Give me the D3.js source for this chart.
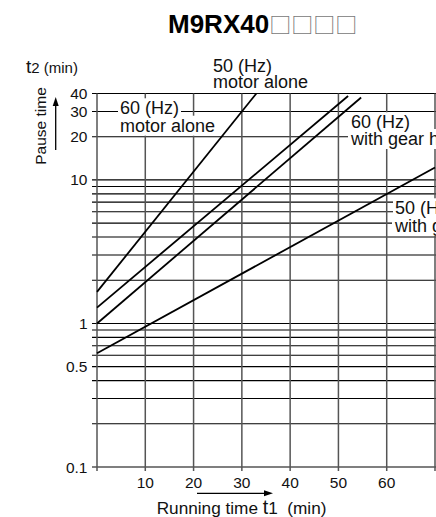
<!DOCTYPE html>
<html><head><meta charset="utf-8">
<script src="https://cdn.jsdelivr.net/npm/d3@7"></script>
<style>
html,body{margin:0;padding:0;background:#fff;}
svg{display:block;font-family:"Liberation Sans",Arial,sans-serif;}
</style></head>
<body>
<script>
// ---- data ----
const seriesNames = ["50 (Hz) motor alone", "60 (Hz) motor alone", "60 (Hz) with gear head", "50 (Hz) with gear head"];
const runTimeA = [0, 33];     const pauseTimeA = [1.66, 40];
const runTimeB = [0, 52];     const pauseTimeB = [1.29, 38.4];
const runTimeC = [0, 54.7];   const pauseTimeC = [1.0, 37.5];
const runTimeD = [0, 70];     const pauseTimeD = [0.62, 12.2];
const xGridValues = [0, 10, 20, 30, 40, 50, 60, 70];
const xTickLabels = ["10", "20", "30", "40", "50", "60"];
const yGridValues = [0.1,0.2,0.3,0.4,0.5,0.6,0.7,0.8,0.9,1,2,3,4,5,6,7,8,9,10,20,30,40];
const yTickLabels = ["0.1", "0.5", "1", "10", "20", "30", "40"];
const titleMain = "M9RX40";
const titleBoxes = "□□□□";

const W = 436, H = 517;
const svg = d3.select("body").append("svg").attr("width", W).attr("height", H);

const x = d3.scaleLinear().domain([0, 70]).range([97, 435]);
const y = d3.scaleLog().domain([0.1, 40]).range([467, 93.5]);

// title
const title = svg.append("text").attr("x", 168).attr("y", 32.5);
title.append("tspan").attr("font-size", 26).attr("font-weight", "bold").attr("fill", "#000").text(titleMain);
title.append("tspan").attr("font-size", 22).attr("font-family", "'Noto Sans CJK JP'").attr("fill", "#777").text(titleBoxes);

// horizontal gridlines
svg.append("g").selectAll("line").data(yGridValues).join("line")
  .attr("x1", x(0) - 5).attr("x2", W + 5)
  .attr("y1", d => y(d)).attr("y2", d => y(d))
  .attr("stroke", "#000").attr("stroke-width", 1.1);

// vertical gridlines
svg.append("g").selectAll("line").data(xGridValues).join("line")
  .attr("x1", d => x(d)).attr("x2", d => x(d))
  .attr("y1", y(40)).attr("y2", y(0.1) + 4)
  .attr("stroke", "#555").attr("stroke-width", 1.5);

// y tick labels
svg.append("g").selectAll("text").data(yTickLabels).join("text")
  .attr("x", x(0) - 9.5).attr("y", d => y(+d))
  .attr("dy", "0.36em").attr("text-anchor", "end")
  .attr("font-size", 15.5).attr("fill", "#111").text(d => d);

// x tick labels
svg.append("g").selectAll("text").data(xTickLabels).join("text")
  .attr("x", d => x(+d)).attr("y", 488)
  .attr("text-anchor", "middle")
  .attr("font-size", 15.5).attr("fill", "#111").text(d => d);

// annotation labels with white knock-out background
function label(lines, px, py, lh) {
  const g = svg.append("g");
  const rg = g.append("g");
  lines.forEach((t, i) => {
    const tx = g.append("text").attr("x", px).attr("y", py + i * lh)
      .attr("font-size", 18).attr("fill", "#111").text(t);
    const b = tx.node().getBBox();
    rg.append("rect").attr("x", b.x - 2).attr("y", b.y).attr("width", b.width + 4).attr("height", b.height).attr("fill", "#fff");
  });
}
label(["50 (Hz)", "motor alone"], 213, 71.7, 16.6);
label(["60 (Hz)", "motor alone"], 120, 114.3, 17.4);
label(["60 (Hz)", "with gear head"], 351, 128.3, 16.7);
label(["50 (Hz)", "with gear head"], 395, 214.3, 17.4);

// curves
const seriesData = [
  d3.zip(runTimeA, pauseTimeA),
  d3.zip(runTimeB, pauseTimeB),
  d3.zip(runTimeC, pauseTimeC),
  d3.zip(runTimeD, pauseTimeD)
];
const line = d3.line().x(d => x(d[0])).y(d => y(d[1]));
svg.append("g").selectAll("path").data(seriesData).join("path")
  .attr("d", line).attr("fill", "none").attr("stroke", "#000").attr("stroke-width", 1.8)
  .append("title").text((d, i) => seriesNames[i]);

// y axis title
const yt = svg.append("text").attr("x", 26).attr("y", 72.7).attr("fill", "#111");
yt.append("tspan").attr("font-size", 19).text("t");
yt.append("tspan").attr("font-size", 15).text("2 (min)");

svg.append("text").attr("transform", "translate(45.5,126) rotate(-90)")
  .attr("text-anchor", "middle").attr("font-size", 15.5).attr("fill", "#111").text("Pause time");

// vertical arrow
svg.append("line").attr("x1", 55.7).attr("x2", 55.7).attr("y1", 150).attr("y2", 104)
  .attr("stroke", "#000").attr("stroke-width", 1.3);
svg.append("path").attr("d", "M55.7,97 L52.7,106 L58.7,106 Z").attr("fill", "#000");

// x axis title
const xt = svg.append("text").attr("x", 156.7).attr("y", 514).attr("fill", "#111").attr("font-size", 17.2);
xt.append("tspan").text("Running time ");
xt.append("tspan").attr("font-size", 19.5).text("t");
xt.append("tspan").text("1  (min)");
xt.attr("xml:space", "preserve").style("white-space", "pre");

// horizontal arrow
svg.append("line").attr("x1", 197).attr("x2", 265).attr("y1", 493.3).attr("y2", 493.3)
  .attr("stroke", "#000").attr("stroke-width", 1.3);
svg.append("path").attr("d", "M273,493.3 L264,490.3 L264,496.3 Z").attr("fill", "#000");
</script>
</body></html>
